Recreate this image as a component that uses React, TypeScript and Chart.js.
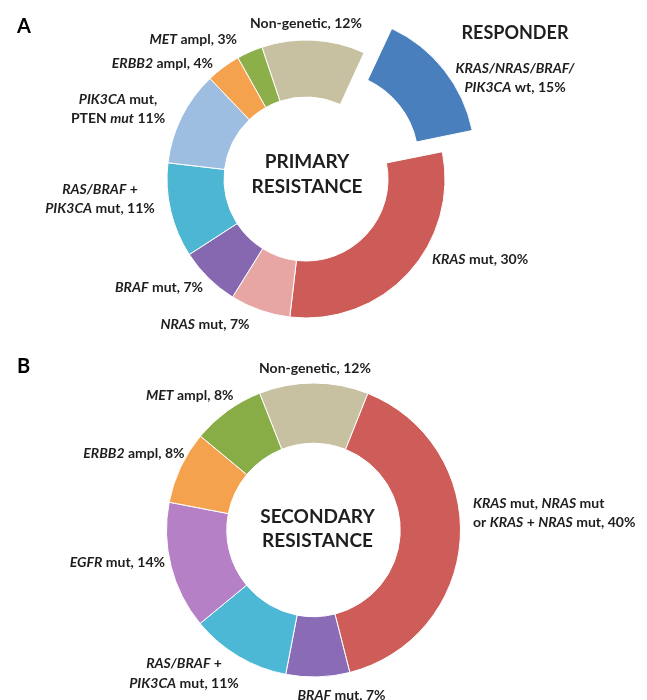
import React, { useEffect, useRef } from 'react';
import { Chart, registerables } from 'chart.js';

Chart.register(...registerables);

// ---------- Data ----------
const primaryCategories = [
  'Non-genetic',
  'KRAS/NRAS/BRAF/PIK3CA wt',
  'KRAS mut',
  'NRAS mut',
  'BRAF mut',
  'RAS/BRAF + PIK3CA mut',
  'PIK3CA mut, PTEN mut',
  'ERBB2 ampl',
  'MET ampl',
];
const primaryValues = [12, 15, 30, 7, 7, 11, 11, 4, 3];
const primaryColors = [
  '#c8c1a1',
  '#4a7fbd',
  '#cd5b57',
  '#e7a6a4',
  '#8568b0',
  '#4cb6d3',
  '#9dbde1',
  '#f5a24f',
  '#8caf4a',
];
const primaryOffsets = [0, 124, 0, 0, 0, 0, 0, 0, 0];

const secondaryCategories = [
  'Non-genetic',
  'KRAS mut, NRAS mut or KRAS + NRAS mut',
  'BRAF mut',
  'RAS/BRAF + PIK3CA mut',
  'EGFR mut',
  'ERBB2 ampl',
  'MET ampl',
];
const secondaryValues = [12, 40, 7, 11, 14, 8, 8];
const secondaryColors = [
  '#c8c1a1',
  '#ce5d59',
  '#8a6bb6',
  '#4cb8d6',
  '#b680c6',
  '#f5a24f',
  '#89ad46',
];

// ---------- Label helpers ----------
type Seg = { t: string; i?: boolean };
type Label = {
  lines: Seg[][];
  dx: number;
  dy: number;
  align: 'left' | 'right' | 'center';
  size?: number;
  lh?: number;
};

const P = (i: number) => `${primaryValues[i]}%`;
const S = (i: number) => `${secondaryValues[i]}%`;

const primaryLabels: Label[] = [
  { lines: [[{ t: `Non-genetic, ${P(0)}` }]], dx: 0, dy: -156, align: 'center' },
  { lines: [[{ t: 'MET', i: true }, { t: ` ampl, ${P(8)}` }]], dx: -69, dy: -140, align: 'right' },
  { lines: [[{ t: 'ERBB2', i: true }, { t: ` ampl, ${P(7)}` }]], dx: -93, dy: -116, align: 'right' },
  {
    lines: [
      [{ t: 'PIK3CA', i: true }, { t: ' mut,' }],
      [{ t: 'PTEN ' }, { t: 'mut', i: true }, { t: ` ${P(6)}` }],
    ],
    dx: -188, dy: -80, align: 'center', lh: 19,
  },
  {
    lines: [
      [{ t: 'RAS/BRAF', i: true }, { t: ' +' }],
      [{ t: 'PIK3CA', i: true }, { t: ` mut, ${P(5)}` }],
    ],
    dx: -206, dy: 10, align: 'center', lh: 19,
  },
  { lines: [[{ t: 'BRAF', i: true }, { t: ` mut, ${P(4)}` }]], dx: -103, dy: 108, align: 'right' },
  { lines: [[{ t: 'NRAS', i: true }, { t: ` mut, ${P(3)}` }]], dx: -101, dy: 145, align: 'center' },
  { lines: [[{ t: 'KRAS', i: true }, { t: ` mut, ${P(2)}` }]], dx: 126, dy: 80, align: 'left' },
  { lines: [[{ t: 'RESPONDER' }]], dx: 209, dy: -146, align: 'center', size: 18 },
  {
    lines: [
      [{ t: 'KRAS/NRAS/BRAF/', i: true }],
      [{ t: 'PIK3CA', i: true }, { t: ` wt, ${P(1)}` }],
    ],
    dx: 209, dy: -111, align: 'center', lh: 19,
  },
  {
    lines: [[{ t: 'PRIMARY' }], [{ t: 'RESISTANCE' }]],
    dx: 1, dy: -17, align: 'center', size: 19, lh: 25,
  },
];

const secondaryLabels: Label[] = [
  { lines: [[{ t: `Non-genetic, ${S(0)}` }]], dx: 1.5, dy: -162, align: 'center' },
  { lines: [[{ t: 'MET', i: true }, { t: ` ampl, ${S(6)}` }]], dx: -80, dy: -135, align: 'right' },
  { lines: [[{ t: 'ERBB2', i: true }, { t: ` ampl, ${S(5)}` }]], dx: -129, dy: -77, align: 'right' },
  {
    lines: [[{ t: 'SECONDARY' }], [{ t: 'RESISTANCE' }]],
    dx: 4, dy: -13, align: 'center', size: 19, lh: 24,
  },
  {
    lines: [
      [{ t: 'KRAS', i: true }, { t: ' mut, ' }, { t: 'NRAS', i: true }, { t: ' mut' }],
      [{ t: 'or ' }, { t: 'KRAS', i: true }, { t: ' + ' }, { t: 'NRAS', i: true }, { t: ` mut, ${S(1)}` }],
    ],
    dx: 159.5, dy: -27, align: 'left', lh: 19,
  },
  { lines: [[{ t: 'EGFR', i: true }, { t: ` mut, ${S(4)}` }]], dx: -148.5, dy: 32, align: 'right' },
  {
    lines: [
      [{ t: 'RAS/BRAF', i: true }, { t: ' +' }],
      [{ t: 'PIK3CA', i: true }, { t: ` mut, ${S(3)}` }],
    ],
    dx: -129.5, dy: 133, align: 'center', lh: 20,
  },
  { lines: [[{ t: 'BRAF', i: true }, { t: ` mut, ${S(2)}` }]], dx: 28, dy: 165, align: 'center' },
];

const FONT = 'Lato, "Open Sans", sans-serif';
const TEXT_COLOR = '#1e1e1e';

function makeLabelPlugin(labels: Label[], panel: { text: string; x: number; y: number }) {
  return {
    id: 'ringLabels',
    afterDraw(chart: any) {
      const meta = chart.getDatasetMeta(0);
      const arc = meta.data[0];
      if (!arc) return;
      const cx = arc.x;
      const cy = arc.y;
      const ctx: CanvasRenderingContext2D = chart.ctx;
      ctx.save();
      ctx.fillStyle = TEXT_COLOR;
      ctx.textBaseline = 'middle';
      ctx.textAlign = 'left';
      const fontOf = (s: Seg, size: number) =>
        `${s.i ? 'italic ' : ''}bold ${size}px ${FONT}`;
      for (const lab of labels) {
        const size = lab.size || 14;
        const lh = lab.lh || size * 1.35;
        lab.lines.forEach((line, li) => {
          const y = cy + lab.dy + li * lh;
          const widths = line.map((s) => {
            ctx.font = fontOf(s, size);
            return ctx.measureText(s.t).width;
          });
          const total = widths.reduce((a, b) => a + b, 0);
          let x = cx + lab.dx;
          if (lab.align === 'center') x -= total / 2;
          else if (lab.align === 'right') x -= total;
          line.forEach((s, k) => {
            ctx.font = fontOf(s, size);
            ctx.fillText(s.t, x, y);
            x += widths[k];
          });
        });
      }
      ctx.font = `bold 20px ${FONT}`;
      ctx.fillStyle = '#000';
      ctx.fillText(panel.text, panel.x, panel.y);
      ctx.restore();
    },
  };
}

function Donut(props: {
  categories: string[];
  values: number[];
  colors: string[];
  offsets?: number[];
  labels: Label[];
  panel: { text: string; x: number; y: number };
  radius: number;
  cutout: string;
  rotation: number;
  padding: { left: number; right: number; top: number; bottom: number };
  top: number;
}) {
  const ref = useRef<HTMLCanvasElement | null>(null);
  useEffect(() => {
    if (!ref.current) return;
    const chart = new Chart(ref.current, {
      type: 'doughnut',
      data: {
        labels: props.categories,
        datasets: [
          {
            data: props.values,
            backgroundColor: props.colors,
            borderColor: '#ffffff',
            borderWidth: 1,
            offset: props.offsets || 0,
          } as any,
        ],
      },
      options: {
        responsive: false,
        animation: false,
        radius: props.radius,
        cutout: props.cutout,
        rotation: props.rotation,
        layout: { padding: props.padding },
        plugins: {
          legend: { display: false },
          tooltip: { enabled: false },
        },
      } as any,
      plugins: [makeLabelPlugin(props.labels, props.panel)],
    });
    return () => chart.destroy();
  }, []);
  return (
    <canvas
      ref={ref}
      width={647}
      height={350}
      style={{ position: 'absolute', left: 0, top: props.top, width: 647, height: 350 }}
    />
  );
}

export default function App() {
  return (
    <div
      style={{
        position: 'absolute',
        left: 0,
        top: 0,
        width: 647,
        height: 700,
        background: '#fff',
        overflow: 'hidden',
      }}
    >
      <Donut
        categories={primaryCategories}
        values={primaryValues}
        colors={primaryColors}
        offsets={primaryOffsets}
        labels={primaryLabels}
        panel={{ text: 'A', x: 17, y: 27 }}
        radius={139}
        cutout="59%"
        rotation={-18.5}
        padding={{ left: 0, right: 35, top: 8, bottom: 0 }}
        top={0}
      />
      <Donut
        categories={secondaryCategories}
        values={secondaryValues}
        colors={secondaryColors}
        labels={secondaryLabels}
        panel={{ text: 'B', x: 17, y: 17 }}
        radius={147}
        cutout="59%"
        rotation={-21.5}
        padding={{ left: 0, right: 20, top: 10, bottom: 0 }}
        top={350}
      />
    </div>
  );
}
